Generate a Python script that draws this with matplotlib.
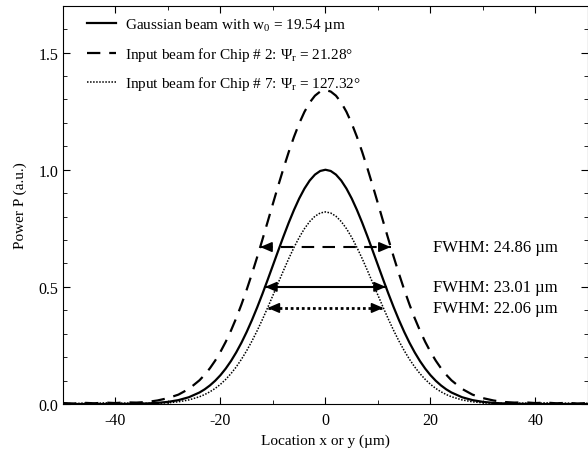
import matplotlib
matplotlib.use('Agg')
import matplotlib.pyplot as plt
from matplotlib.ticker import MultipleLocator, FormatStrFormatter

plt.rcParams['font.family'] = ['Liberation Serif', 'DejaVu Serif']
plt.rcParams['mathtext.fontset'] = 'custom'
plt.rcParams['mathtext.rm'] = 'Liberation Serif'
plt.rcParams['mathtext.it'] = 'Liberation Serif'
plt.rcParams['axes.unicode_minus'] = False

# location (um): step 2 in the wings, step 1 in the core
x = [-50, -48, -46, -44, -42, -40, -38, -36, -34, -32, -30, -28, -26, -24,
     -23, -22, -21, -20, -19, -18, -17, -16, -15, -14, -13, -12, -11, -10,
     -9, -8, -7, -6, -5, -4, -3, -2, -1, 0, 1, 2, 3, 4, 5, 6, 7, 8, 9,
     10, 11, 12, 13, 14, 15, 16, 17, 18, 19, 20, 21, 22, 23, 24,
     26, 28, 30, 32, 34, 36, 38, 40, 42, 44, 46, 48, 50]

# Gaussian beam, w0 = 19.54 um
p_gauss = [0.0, 0.0, 0.0, 0.0, 0.0, 0.0002, 0.0005, 0.0011, 0.0023, 0.0047, 0.0090,
           0.0165, 0.0290, 0.0490,
           0.0626, 0.0793, 0.0993, 0.1230, 0.1509, 0.1832, 0.2201, 0.2616, 0.3077,
           0.3582, 0.4126, 0.4703, 0.5306, 0.5923, 0.6542, 0.7152, 0.7737, 0.8281,
           0.8773, 0.9196, 0.9540, 0.9793, 0.9948, 1.0, 0.9948, 0.9793, 0.9540,
           0.9196, 0.8773, 0.8281, 0.7737, 0.7152, 0.6542, 0.5923, 0.5306, 0.4703,
           0.4126, 0.3582, 0.3077, 0.2616, 0.2201, 0.1832, 0.1509, 0.1230, 0.0993,
           0.0793, 0.0626, 0.0490,
           0.0290, 0.0165, 0.0090, 0.0047, 0.0023, 0.0011, 0.0005, 0.0002, 0.0,
           0.0, 0.0, 0.0, 0.0]

# input beam, chip #2
p_chip2 = [0.004, 0.002, 0.005, 0.003, 0.006, 0.004, 0.007, 0.006, 0.0085, 0.0150,
           0.0250, 0.0400, 0.0645, 0.1010,
           0.1248, 0.1527, 0.1852, 0.2226, 0.2651, 0.3131, 0.3662, 0.4248, 0.4881,
           0.5560, 0.6276, 0.7022, 0.7785, 0.8555, 0.9316, 1.0055, 1.0755, 1.1401,
           1.1978, 1.2472, 1.2870, 1.3162, 1.3340, 1.34, 1.3340, 1.3162, 1.2870,
           1.2472, 1.1978, 1.1401, 1.0755, 1.0055, 0.9316, 0.8555, 0.7785, 0.7022,
           0.6276, 0.5560, 0.4881, 0.4248, 0.3662, 0.3131, 0.2651, 0.2226, 0.1852,
           0.1527, 0.1248, 0.1010,
           0.0645, 0.0400, 0.0250, 0.0150, 0.0085, 0.006, 0.007, 0.004, 0.006,
           0.003, 0.005, 0.002, 0.004]

# input beam, chip #7
p_chip7 = [0.003, 0.001, 0.004, 0.002, 0.005, 0.003, 0.004, 0.003, 0.0030, 0.0030,
           0.0049, 0.0094, 0.0175, 0.0309,
           0.0403, 0.0521, 0.0665, 0.0840, 0.1049, 0.1296, 0.1581, 0.1909, 0.2277,
           0.2686, 0.3132, 0.3612, 0.4117, 0.4640, 0.5170, 0.5695, 0.6204, 0.6680,
           0.7112, 0.7486, 0.7790, 0.8015, 0.8153, 0.82, 0.8153, 0.8015, 0.7790,
           0.7486, 0.7112, 0.6680, 0.6204, 0.5695, 0.5170, 0.4640, 0.4117, 0.3612,
           0.3132, 0.2686, 0.2277, 0.1909, 0.1581, 0.1296, 0.1049, 0.0840, 0.0665,
           0.0521, 0.0403, 0.0309,
           0.0175, 0.0094, 0.0049, 0.0030, 0.0030, 0.003, 0.004, 0.003, 0.005,
           0.002, 0.004, 0.001, 0.003]

labels = [r'Gaussian beam with w$_0$ = 19.54 µm',
          r'Input beam for Chip # 2: Ψ$_\mathrm{r}$ = 21.28°',
          r'Input beam for Chip # 7: Ψ$_\mathrm{r}$ = 127.32°']

# FWHM markers: full width and height of the arrow
fwhm = [24.86, 23.01, 22.06]
fwhm_y = [0.67, 0.50, 0.41]
fwhm_text = ['FWHM: 24.86 µm', 'FWHM: 23.01 µm', 'FWHM: 22.06 µm']
fwhm_ls = [(0, (6, 4)), '-', (0, (1, 1))]
fwhm_lw = [1.5, 1.5, 2.0]

fig = plt.figure(figsize=(5.88, 4.52), dpi=100)
ax = fig.add_axes([0.107, 0.104, 0.893, 0.881])

ax.plot(x, p_gauss, color='black', lw=1.6, label=labels[0])
ax.plot(x, p_chip2, color='black', lw=1.6, ls=(0, (6, 4)), label=labels[1])
ax.plot(x, p_chip7, color='black', lw=1.1, ls=(0, (1, 1)), label=labels[2])

for w, yy, t, ls, lw in zip(fwhm, fwhm_y, fwhm_text, fwhm_ls, fwhm_lw):
    ax.plot([-w / 2, w / 2], [yy, yy], color='black', ls=ls, lw=lw)
    for sgn in (-1, 1):
        ax.annotate('', xy=(sgn * w / 2, yy), xytext=(sgn * (w / 2 - 1.5), yy),
                    arrowprops=dict(arrowstyle='-|>,head_length=0.7,head_width=0.3',
                                    color='black', lw=1.2, shrinkA=0, shrinkB=0))
    ax.text(20.5, yy, t, fontsize=12, va='center', ha='left')

ax.set_xlim(-50, 50)
ax.set_ylim(0, 1.7)
ax.xaxis.set_major_locator(MultipleLocator(20))
ax.xaxis.set_minor_locator(MultipleLocator(10))
ax.yaxis.set_major_locator(MultipleLocator(0.5))
ax.yaxis.set_minor_locator(MultipleLocator(0.1))
ax.yaxis.set_major_formatter(FormatStrFormatter('%.1f'))
ax.tick_params(which='both', direction='in', top=True, right=True, labelsize=11.5)
ax.tick_params(which='major', length=5)
ax.tick_params(axis='x', which='major', pad=6)
ax.tick_params(which='minor', length=3)
ax.set_xlabel('Location x or y (µm)', fontsize=11, labelpad=4)
ax.set_ylabel('Power P (a.u.)', fontsize=11, labelpad=8)

leg = ax.legend(loc='upper left', frameon=False, fontsize=11, handlelength=1.9,
                handletextpad=0.6, labelspacing=0.75, borderaxespad=0.3,
                bbox_to_anchor=(0.025, 1.0))

fig.savefig('out.png', dpi=100)
